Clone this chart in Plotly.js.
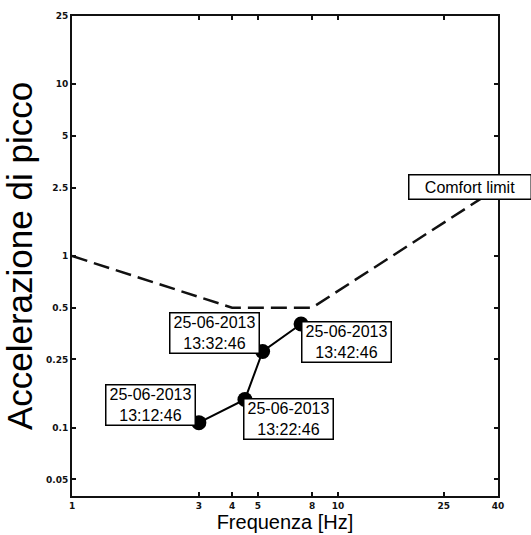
<!DOCTYPE html>
<html>
<head>
<meta charset="utf-8">
<script src="https://cdn.plot.ly/plotly-3.0.1.min.js"></script>
<style>
  html, body { margin: 0; padding: 0; background: #ffffff; }
  #chart { width: 531px; height: 535px; }
</style>
</head>
<body>
<div id="chart"></div>
<script>
// Comfort limit curve (frequency in Hz, peak acceleration)
const limitFreq = [1, 4, 8, 40];
const limitAcc = [1, 0.5, 0.5, 2.5];

// Measured peaks with their timestamps
const measFreq = [3.0, 4.47, 5.21, 7.27];
const measAcc = [0.107, 0.146, 0.278, 0.402];
const measTimes = [
  "25-06-2013<br>13:12:46",
  "25-06-2013<br>13:22:46",
  "25-06-2013<br>13:32:46",
  "25-06-2013<br>13:42:46"
];

// Tick values shown on the axes
const xTicks = [1, 3, 4, 5, 8, 10, 25, 40];
const yTicks = [0.05, 0.1, 0.25, 0.5, 1, 2.5, 5, 10, 25];

// Pixel offsets of each timestamp box from its point
const labelShift = [[-48, 18], [44, -20], [-48, 18], [45, -18]];

const traces = [
  {
    x: limitFreq, y: limitAcc, mode: "lines", type: "scatter",
    line: { color: "#111", width: 2.5, dash: "16px,7px" },
    hoverinfo: "skip", showlegend: false
  },
  {
    x: measFreq, y: measAcc, mode: "lines+markers", type: "scatter",
    line: { color: "#000", width: 2 },
    marker: { color: "#000", size: 15 },
    showlegend: false
  }
];

const boxStyle = {
  showarrow: false, bgcolor: "#fff", bordercolor: "#000", borderwidth: 1.5,
  borderpad: 1, font: { family: "Liberation Sans, Arial, sans-serif", size: 16, color: "#000" }
};

const annotations = measTimes.map((t, i) => Object.assign({}, boxStyle, {
  x: Math.log10(measFreq[i]), y: Math.log10(measAcc[i]), xref: "x", yref: "y",
  text: t, xshift: labelShift[i][0], yshift: labelShift[i][1],
  width: 86, height: 37
}));

annotations.push(Object.assign({}, boxStyle, {
  x: Math.log10(limitFreq[3]), y: Math.log10(limitAcc[3]), xref: "x", yref: "y",
  text: "Comfort limit", xshift: -28, yshift: 1, width: 119, height: 21
}));

const tickFont = { family: "DejaVu Sans, sans-serif", size: 9, color: "#111", weight: "bold" };

const axisCommon = {
  type: "log", showgrid: false, zeroline: false,
  showline: true, linecolor: "#111", linewidth: 2, mirror: "ticks",
  ticks: "inside", ticklen: 4, tickwidth: 2, tickcolor: "#111",
  tickfont: tickFont
};

const layout = {
  width: 531, height: 535,
  margin: { l: 72, r: 33, t: 16, b: 39 },
  paper_bgcolor: "#fff", plot_bgcolor: "#fff",
  showlegend: false,
  xaxis: Object.assign({}, axisCommon, {
    range: [0, Math.log10(40)],
    tickvals: xTicks, ticktext: xTicks.map(String),
    title: { text: "Frequenza [Hz]", standoff: 0,
      font: { family: "Liberation Sans, Arial, sans-serif", size: 20, color: "#000" } }
  }),
  yaxis: Object.assign({}, axisCommon, {
    range: [Math.log10(0.04), Math.log10(25)],
    tickvals: yTicks, ticktext: yTicks.map(String),
    title: { text: "Accelerazione di picco", standoff: 5,
      font: { family: "Liberation Sans, Arial, sans-serif", size: 35, color: "#000" } }
  }),
  annotations: annotations
};

Plotly.newPlot("chart", traces, layout, { displayModeBar: false, staticPlot: true });
</script>
</body>
</html>
